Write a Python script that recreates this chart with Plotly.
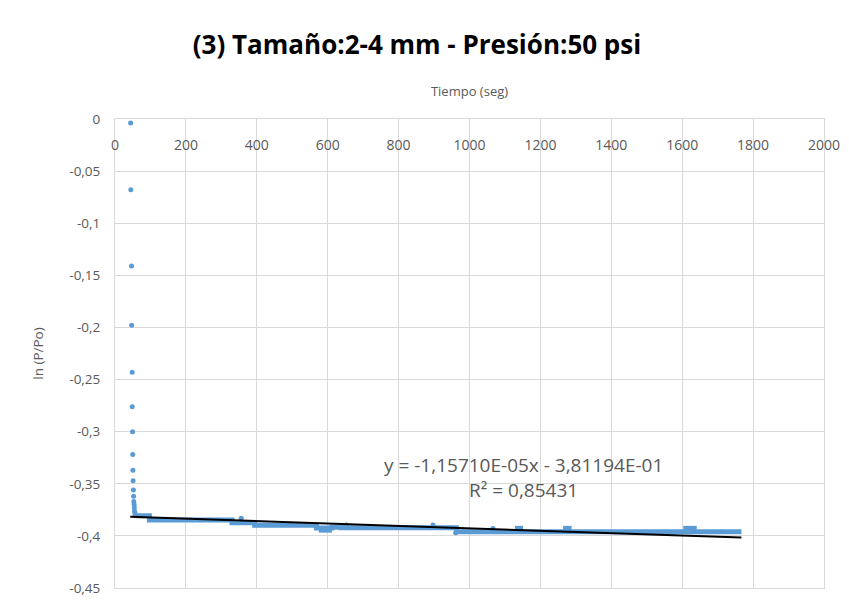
import plotly.graph_objects as go

# --- data ---
drop_x = [44, 44.6, 46.6, 47, 48.5, 48.5, 49.5, 50, 50.5, 51, 52, 52.5, 53, 54, 54.5, 55, 56, 57]
drop_y = [-0.0038, -0.068, -0.141, -0.198, -0.243, -0.276, -0.300, -0.322, -0.337, -0.347,
          -0.356, -0.362, -0.367, -0.370, -0.373, -0.376, -0.378, -0.380]

iso_x = [356, 653, 897, 961, 1066]
iso_y = [-0.3831, -0.3896, -0.3896, -0.397, -0.393]

band_x = [58, 97, 330, 394, 568, 612, 638, 963, 1767]
band_y = [-0.3806, -0.3848, -0.3873, -0.3899, -0.3925, -0.3918, -0.3922, -0.396, -0.396]

bump_x = [1128, 1151, None, 1264, 1288, None, 1603, 1641, None, 575, 612]
bump_y = [-0.3928, -0.3928, None, -0.3928, -0.3928, None, -0.3928, -0.3928, None, -0.3945, -0.3945]

trend_slope = -1.15710e-05
trend_intercept = -3.81194e-01
trend_x = [43, 1767]
trend_y = [trend_slope * v + trend_intercept for v in trend_x]

x_ticks = [0, 200, 400, 600, 800, 1000, 1200, 1400, 1600, 1800, 2000]
y_ticks = [0, -0.05, -0.1, -0.15, -0.2, -0.25, -0.3, -0.35, -0.4, -0.45]
y_ticklabels = ["0", "-0,05", "-0,1", "-0,15", "-0,2", "-0,25", "-0,3", "-0,35", "-0,4", "-0,45"]

title_text = "(3) Tamaño:2-4 mm - Presión:50 psi"
eq_text = "y = -1,15710E-05x - 3,81194E-01"
r2_text = "R² = 0,85431"

BLUE = "#5B9BD5"
GRID = "#D9D9D9"
TXT = "#595959"
FONT = "Open Sans"

# page body has an 8px margin; figure is sized to fit inside the window
W, H = 833, 589
OFF = 8

fig = go.Figure()
fig.add_trace(go.Scatter(x=band_x, y=band_y, mode="lines", line=dict(color=BLUE, width=5, shape="hv"),
                         showlegend=False, hoverinfo="skip"))
fig.add_trace(go.Scatter(x=bump_x, y=bump_y, mode="lines", line=dict(color=BLUE, width=5),
                         showlegend=False, hoverinfo="skip", connectgaps=False))
fig.add_trace(go.Scatter(x=drop_x + iso_x, y=drop_y + iso_y, mode="markers",
                         marker=dict(color=BLUE, size=5), showlegend=False))
fig.add_trace(go.Scatter(x=trend_x, y=trend_y, mode="lines", line=dict(color="black", width=2),
                         showlegend=False))
# invisible trace to activate the label axis
fig.add_trace(go.Scatter(x=[None], y=[None], xaxis="x2", yaxis="y", showlegend=False, hoverinfo="skip"))

fig.update_layout(
    width=W, height=H,
    margin=dict(l=115 - OFF, r=(W + OFF) - 824, t=119 - OFF, b=(H + OFF) - 588, autoexpand=False),
    paper_bgcolor="white", plot_bgcolor="white",
    font=dict(family=FONT, color=TXT, size=13),
    title=dict(text="<b>" + title_text + "</b>", x=(417 - OFF) / W, xref="container", xanchor="center",
               y=1 - (45 - OFF) / H, yref="container", yanchor="middle",
               font=dict(family=FONT, size=26, color="black")),
    xaxis=dict(range=[0, 2000], tickvals=x_ticks, side="top", showticklabels=False,
               ticks="", automargin=False,
               showgrid=True, gridcolor=GRID, gridwidth=1,
               showline=True, linecolor=GRID, linewidth=1, mirror=True, zeroline=False,
               title=dict(text="Tiempo (seg)", standoff=18, font=dict(size=13, color=TXT))),
    xaxis2=dict(range=[0, 2000], tickvals=x_ticks, overlaying="x", matches="x",
                side="bottom", anchor="free", position=0.966, automargin=False,
                showgrid=False, showline=False, zeroline=False, ticks="",
                tickfont=dict(size=14, color=TXT)),
    yaxis=dict(range=[-0.45, 0], tickvals=y_ticks, ticktext=y_ticklabels, ticks="",
               ticklabelstandoff=11, automargin=False,
               showgrid=True, gridcolor=GRID, gridwidth=1,
               showline=True, linecolor=GRID, linewidth=1, mirror=True, zeroline=False,
               tickfont=dict(size=13.5, color=TXT),
               title=dict(text="ln (P/Po)", standoff=22, font=dict(size=13.5, color=TXT))),
    annotations=[
        dict(text=eq_text, x=1153, y=-0.332, xref="x", yref="y", showarrow=False,
             xanchor="center", yanchor="middle", font=dict(size=19, color=TXT, family=FONT)),
        dict(text=r2_text, x=1153, y=-0.356, xref="x", yref="y", showarrow=False,
             xanchor="center", yanchor="middle", font=dict(size=19, color=TXT, family=FONT)),
    ],
)

fig.write_html("out.html")
